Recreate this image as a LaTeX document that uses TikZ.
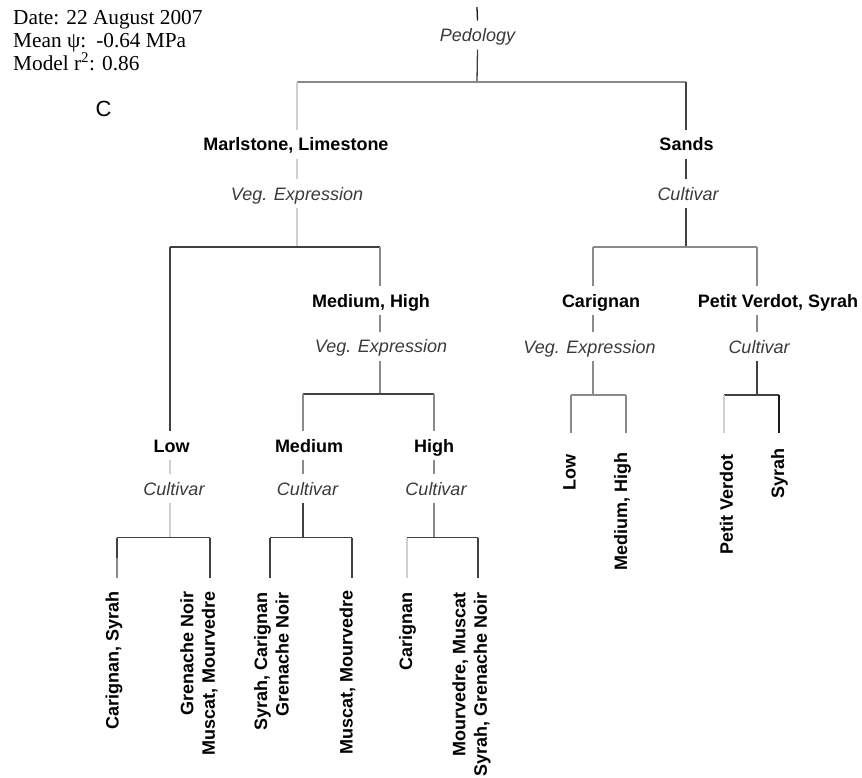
\documentclass[tikz,border=0pt]{standalone}
\usepackage{fontspec}
\setmainfont{Liberation Sans}
\newfontfamily\serifx{Liberation Serif}
\definecolor{clight}{HTML}{CFCFCF}
\definecolor{cmid}{HTML}{8A8A8A}
\definecolor{cdark}{HTML}{404040}
\definecolor{cblack}{HTML}{1A1A1A}
\definecolor{vartext}{HTML}{3A3A3A}
\tikzset{
  lab/.style={font=\bfseries\fontsize{18}{21.5}\selectfont, inner sep=0pt, text height=13pt, text depth=0pt, outer ysep=8pt, anchor=base},
  var/.style={font=\itshape\fontsize{18}{21.5}\selectfont, text=vartext, inner sep=0pt, text height=13pt, text depth=0pt, outer ysep=8pt, anchor=base},
  leaf/.style={font=\bfseries\fontsize{18}{21.5}\selectfont, inner sep=0pt, rotate=90, anchor=east, align=right},
  info/.style={font=\serifx\fontsize{21.3}{23}\selectfont, inner sep=0pt, anchor=base west},
  ln/.style={line width=1.3pt},
  ll/.style={ln, draw=clight},
  lm/.style={ln, draw=cmid},
  ld/.style={ln, draw=cdark},
  lk/.style={ln, draw=cblack},
  bar/.style={ln, line cap=square}
}
\begin{document}
\begin{tikzpicture}[x=1pt,y=-1pt]
\useasboundingbox (0,0) rectangle (862,777);
% info text
\node[info] (date) at (13,24.5) {Date: 22 August 2007};
\node[info] (mean) at (13,47.5) {Mean ψ:\hspace{10pt}-0.64 MPa};
\node[info] (model) at (13,70) {Model r\textsuperscript{2}: 0.86};
\node[font=\fontsize{22}{24}\selectfont, inner sep=0pt] (clab) at (103.5,108.5) {C};
% coordinates
\coordinate (top) at (477,7);
\coordinate (b1) at (477,82);
\coordinate (b1l) at (297,82);
\coordinate (b1r) at (686,82);
\coordinate (b2) at (297,247);
\coordinate (b2l) at (170,247);
\coordinate (b2r) at (380,247);
\coordinate (b3) at (686,247);
\coordinate (b3l) at (593,247);
\coordinate (b3r) at (757,247);
\coordinate (b4) at (380,394);
\coordinate (b4l) at (303,394);
\coordinate (b4r) at (434,394);
\coordinate (b6) at (593,395);
\coordinate (b6l) at (571,395);
\coordinate (b6r) at (626,395);
\coordinate (b7) at (757,395);
\coordinate (b7l) at (724,395);
\coordinate (b7r) at (779,395);
\coordinate (b5a) at (170,537.5);
\coordinate (b5al) at (117,537.5);
\coordinate (b5ar) at (210,537.5);
\coordinate (b5b) at (303,537.5);
\coordinate (b5bl) at (270,537.5);
\coordinate (b5br) at (352,537.5);
\coordinate (b5c) at (434,537.5);
\coordinate (b5cl) at (407,537.5);
\coordinate (b5cr) at (478,537.5);
\coordinate (leafR) at (0,433);
\coordinate (leafL) at (0,578);
% text nodes
\node[var] (ped) at (477.5,41.5) {Pedology};
\node[lab] (marl) at (296,150.5) {Marlstone, Limestone};
\node[var] (veg1) at (297,200) {Veg. Expression};
\node[lab] (sands) at (686.5,150.5) {Sands};
\node[var] (cult1) at (688,200) {Cultivar};
\node[lab] (low) at (171.5,452) {Low};
\node[lab] (medhigh) at (371,307) {Medium, High};
\node[var] (veg2) at (381,352.5) {Veg. Expression};
\node[lab] (medium) at (309,452) {Medium};
\node[lab] (high) at (434,452) {High};
\node[var] (cultL) at (174,495) {Cultivar};
\node[var] (cultM) at (307.5,495) {Cultivar};
\node[var] (cultH) at (436,495) {Cultivar};
\node[lab] (car) at (601,307) {Carignan};
\node[var] (veg3) at (589.5,353) {Veg. Expression};
\node[lab] (pv) at (778,307) {Petit Verdot, Syrah};
\node[var] (cult3) at (759,353) {Cultivar};
% leaves
\node[leaf] (lf1) at (114,591) {Carignan, Syrah};
\node[leaf] (lf2) at (199,591) {Grenache Noir\\Muscat, Mourvedre};
\node[leaf] (lf3) at (271.5,592) {Syrah, Carignan\\Grenache Noir};
\node[leaf] (lf4) at (347.5,590) {Muscat, Mourvedre};
\node[leaf] (lf5) at (407.5,592) {Carignan};
\node[leaf] (lf6) at (471.5,592) {Mourvedre, Muscat\\Syrah, Grenache Noir};
\node[leaf] (lf7) at (569.5,454) {Low};
\node[leaf] (lf8) at (622.5,452) {Medium, High};
\node[leaf] (lf9) at (726.5,454) {Petit Verdot};
\node[leaf] (lf10) at (779.5,448) {Syrah};
% connectors: root
\draw[lk] (top) -- (ped.north);
\draw[ld] (ped.south) -- (b1);
\draw[lm,bar] (b1l) -- (b1r);
% left main branch
\draw[ll] (b1l) -- (b1l |- marl.north);
\draw[ll] (b1l |- marl.south) -- (b1l |- veg1.north);
\draw[ll] (b1l |- veg1.south) -- (b2);
\draw[ld,bar] (b2l) -- (b2r);
\draw[ld] (b2l) -- (b2l |- low.north);
\draw[lm] (b2r) -- (b2r |- medhigh.north);
\draw[lm] (b2r |- medhigh.south) -- (b2r |- veg2.north);
\draw[lm] (b2r |- veg2.south) -- (b4);
\draw[ld,bar] (b4l) -- (b4r);
\draw[lm] (b4l) -- (b4l |- medium.north);
\draw[lm] (b4r) -- (b4r |- high.north);
% low group
\draw[ll] (b2l |- low.south) -- (b2l |- cultL.north);
\draw[ll] (b2l |- cultL.south) -- (b5a);
\draw[ld,bar] (b5al) -- (b5ar);
\draw[lm] (b5al) -- (b5al |- leafL);
\draw[ld] (b5al) -- (b5al |- lf1.east) [shorten >=33pt];
\draw[ld] (b5ar) -- (b5ar |- leafL);
% medium group
\draw[lm] (b4l |- medium.south) -- (b4l |- cultM.north);
\draw[ld] (b4l |- cultM.south) -- (b5b);
\draw[ld,bar] (b5bl) -- (b5br);
\draw[ld] (b5bl) -- (b5bl |- leafL);
\draw[ld] (b5br) -- (b5br |- leafL);
% high group
\draw[lm] (b4r |- high.south) -- (b4r |- cultH.north);
\draw[lm] (b4r |- cultH.south) -- (b5c);
\draw[ld,bar] (b5cl) -- (b5cr);
\draw[ll] (b5cl) -- (b5cl |- leafL);
\draw[ld] (b5cr) -- (b5cr |- leafL);
% right main branch
\draw[ld] (b1r) -- (b1r |- sands.north);
\draw[ld] (b1r |- sands.south) -- (b1r |- cult1.north);
\draw[ld] (b1r |- cult1.south) -- (b3);
\draw[lm,bar] (b3l) -- (b3r);
\draw[lm] (b3l) -- (b3l |- car.north);
\draw[lm] (b3l |- car.south) -- (b3l |- veg3.north);
\draw[lm] (b3l |- veg3.south) -- (b6);
\draw[lm,bar] (b6l) -- (b6r);
\draw[lm] (b6l) -- (b6l |- leafR);
\draw[lm] (b6r) -- (b6r |- leafR);
\draw[lm] (b3r) -- (b3r |- pv.north);
\draw[lm] (b3r |- pv.south) -- (b3r |- cult3.north);
\draw[ld] (b3r |- cult3.south) -- (b7);
\draw[ld,bar] (b7l) -- (b7r);
\draw[ll] (b7l) -- (b7l |- leafR);
\draw[lk] (b7r) -- (b7r |- leafR);
\end{tikzpicture}
\end{document}
